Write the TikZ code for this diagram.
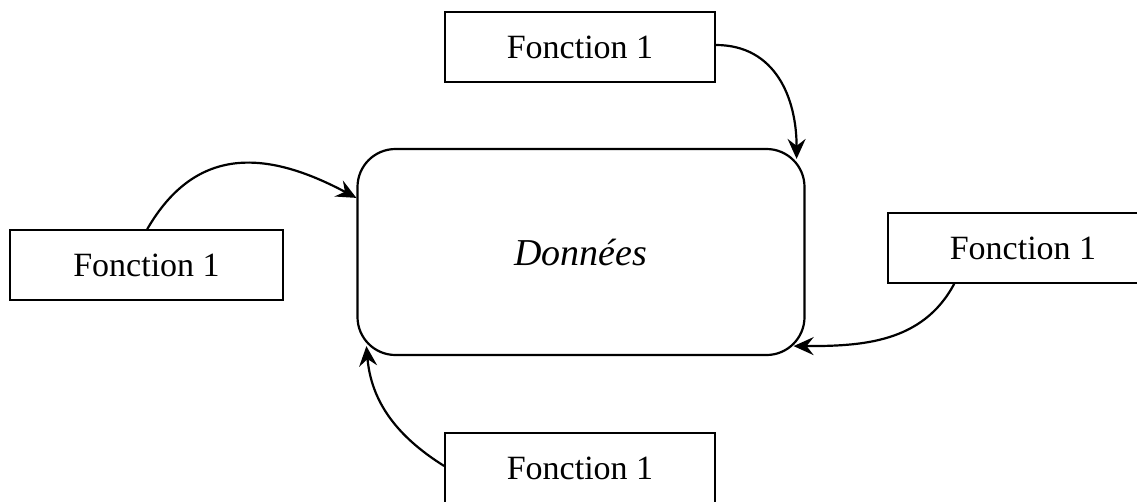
\documentclass[tikz,border=0pt]{standalone}
\usepackage{fontspec}
\setmainfont{Liberation Serif}
\usetikzlibrary{arrows.meta,calc}
\begin{document}
\begin{tikzpicture}[x=1pt,y=1pt,
  fbox/.style={draw, line width=1.6pt, minimum width=270pt, minimum height=70pt,
    inner sep=0pt, font=\fontsize{34}{40}\selectfont},
  databox/.style={draw, line width=2.2pt, rounded corners=38pt,
    minimum width=447pt, minimum height=206pt, inner sep=0pt,
    font=\fontsize{38}{44}\selectfont\itshape},
  flow/.style={line width=2.2pt, -{Stealth[length=20pt,width=18pt,inset=7pt]}}]
  \useasboundingbox (0,0) rectangle (1137,-501);
  \clip (0,0) rectangle (1137,-501);
  % central data store
  \node[databox] (main) at (581,-252) {Donn\'ees};
  % the four functions around it
  \node[fbox] (ftop) at (580,-47) {Fonction 1};
  \node[fbox, minimum width=273pt] (fleft) at (146.5,-265) {Fonction 1};
  \node[fbox] (fright) at (1023,-248) {Fonction 1};
  \node[fbox] (fbottom) at (580,-468) {Fonction 1};
  % arrow end points on the border of the data store
  \coordinate (ctop) at ($(main.north east)+(-9,-11)$);
  \coordinate (cleft) at ($(main.north west)+(0,-50)$);
  \coordinate (cright) at ($(main.south east)+(-12,10)$);
  \coordinate (cbottom) at ($(main.south west)+(10,10)$);
  % connectors
  \draw[flow] (ftop.east) ++(0,2) to[out=0,in=90,looseness=1.1] (ctop);
  \draw[flow] ($(fleft.north west)+(138,0)$) to[out=60,in=152,looseness=1.2] (cleft);
  \draw[flow] ($(fright.south west)+(67,0)$) to[out=-118,in=0] (cright);
  \draw[flow] ($(fbottom.west)+(0,2)$) to[out=148,in=-85] (cbottom);
\end{tikzpicture}
\end{document}
